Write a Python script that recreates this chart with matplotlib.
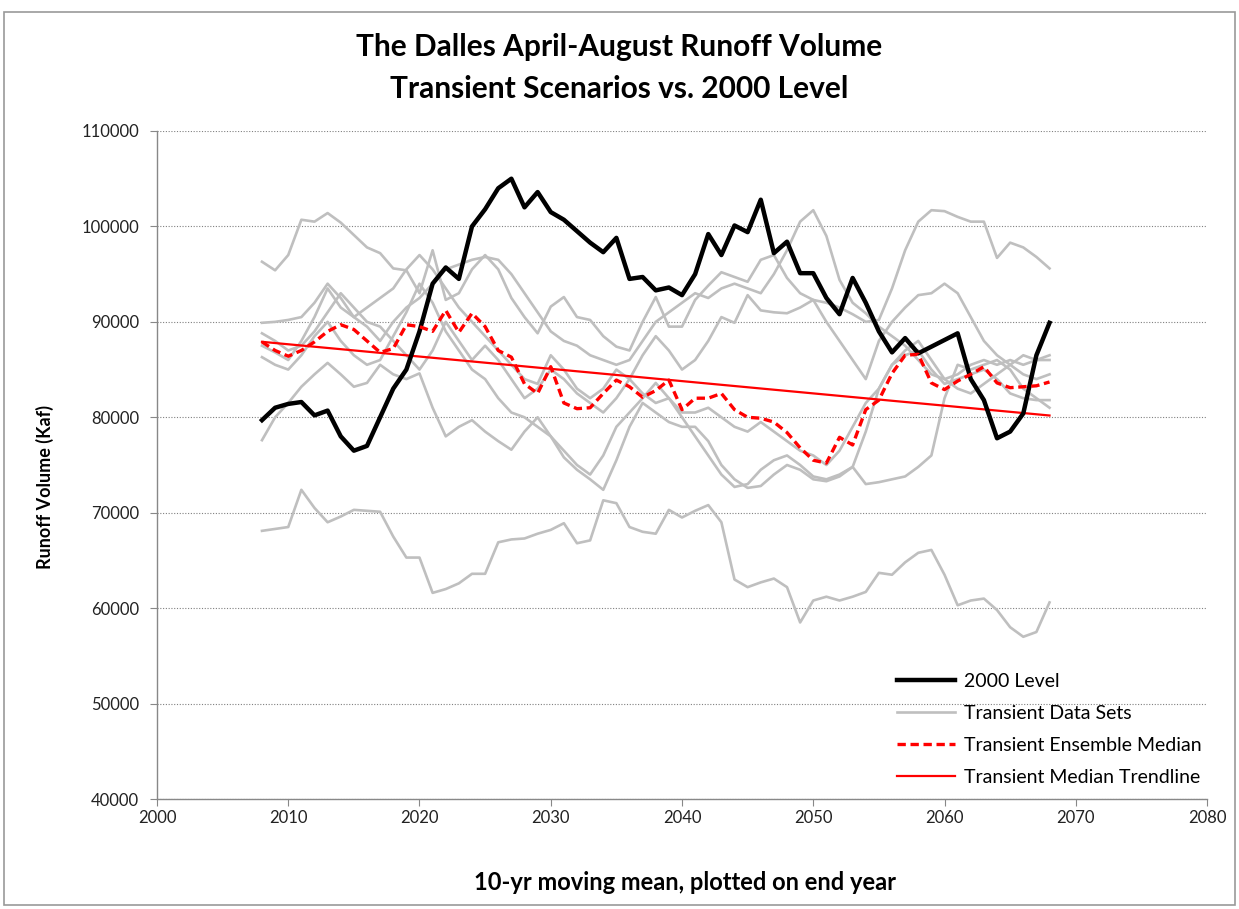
import numpy as np
import matplotlib.pyplot as plt
from matplotlib.patches import Rectangle
from matplotlib.ticker import StrMethodFormatter

# Anni (media mobile 10 anni, riportata sull'anno finale)
anni = np.arange(2008, 2069)

# Livello 2000
livello_2000 = [79700, 81000, 81400, 81600, 80200, 80700, 78000, 76500, 77000, 80000,
                83000, 85000, 89000, 94000, 95700, 94500, 100000, 101800, 104000, 105000,
                102000, 103600, 101500, 100700, 99500, 98300, 97300, 98800, 94500, 94700,
                93300, 93600, 92800, 95000, 99200, 97000, 100100, 99400, 102800, 97200,
                98400, 95100, 95100, 92500, 90800, 94600, 92000, 89000, 86800, 88300,
                86700, 87400, 88100, 88800, 84000, 81800, 77800, 78500, 80400, 86500,
                89900]

# Mediana dell'ensemble transiente
mediana = [87900, 87000, 86400, 87000, 87900, 89000, 89700, 89200, 88000, 86800,
           87200, 89700, 89500, 89000, 91200, 88900, 90900, 89500, 87000, 86300,
           83500, 82500, 85300, 81500, 80900, 81000, 82500, 83900, 83200, 82100,
           82800, 83900, 80800, 82000, 82000, 82500, 80800, 80000, 79900, 79500,
           78400, 76800, 75500, 75200, 77900, 77100, 80800, 81800, 84600, 86500,
           86600, 83600, 82900, 83800, 84500, 85300, 83600, 83100, 83200, 83300,
           83700]

# Serie transienti (grigie)
serie_1 = [96300, 95400, 97000, 100700, 100500, 101400, 100400, 99100, 97800, 97200,
           95600, 95400, 93000, 97500, 92300, 93000, 95500, 97000, 95500, 92500,
           90500, 88800, 91600, 92600, 90500, 90200, 88500, 87400, 87000, 90000,
           92600, 89500, 89500, 92300, 93800, 95200, 94700, 94200, 96500, 97000,
           94600, 93000, 92300, 92000, 91500, 90800, 90000, 90200, 93500, 97500,
           100500, 101700, 101600, 101000, 100500, 100500, 96700, 98300, 97800, 96800,
           95600]
serie_2 = [89900, 90000, 90200, 90500, 92000, 94000, 92500, 90500, 89500, 88000,
           90000, 91500, 92500, 94000, 95500, 96000, 96500, 96800, 96500, 95000,
           93000, 91000, 89000, 88000, 87500, 86500, 86000, 85500, 86000, 88000,
           90000, 91000, 92000, 93000, 92500, 93500, 94000, 93500, 93000, 95000,
           97500, 100500, 101700, 99000, 94400, 92000, 90900, 89500, 88500, 87500,
           86000, 84500, 84000, 84500, 85500, 86000, 85500, 86000, 85500, 86000,
           86500]
serie_3 = [88800, 88000, 87000, 87500, 89000, 91000, 93000, 91500, 90000, 89500,
           88000, 86500, 85000, 87000, 90000, 88000, 86000, 87500, 86000, 84000,
           82000, 83000, 85000, 84000, 82500, 81500, 80500, 82000, 84000, 86500,
           88500, 87000, 85000, 86000, 88000, 90500, 89900, 92800, 91200, 91000,
           90900, 91500, 92300, 90000, 88000, 86000, 84000, 88000, 90000, 91500,
           92800, 93000, 94000, 93000, 90500, 88000, 86500, 85500, 84500, 84000,
           84500]
serie_4 = [86300, 85500, 85000, 86500, 88500, 90000, 88000, 86500, 85500, 86000,
           88500, 91000, 94000, 92000, 89000, 87000, 85000, 84000, 82000, 80500,
           80000, 79000, 78000, 76500, 75000, 74000, 76000, 79000, 80500, 82000,
           83600, 82000, 80000, 78000, 76000, 74000, 72700, 73000, 74500, 75500,
           76000, 75000, 73800, 73500, 74000, 74800, 78500, 83000, 85500, 86500,
           87000, 85000, 83500, 84000, 84500, 85000, 84000, 82500, 82000, 81800,
           81800]
serie_5 = [77600, 80000, 81500, 83200, 84500, 85700, 84500, 83200, 83600, 85500,
           84500, 84000, 84600, 81000, 78000, 79000, 79700, 78500, 77500, 76600,
           78500, 80000, 78000, 75800, 74500, 73500, 72400, 75500, 79000, 81500,
           80500, 79500, 79000, 79000, 77500, 75000, 73500, 72600, 72800, 74000,
           75000, 74500, 73500, 73300, 73800, 74800, 73000, 73200, 73500, 73800,
           74800, 76000, 82000, 85500, 85000, 85500, 86000, 85000, 83000, 82000,
           81000]
serie_6 = [87500, 86800, 86000, 88000, 90500, 93500, 91500, 90500, 91500, 92500,
           93500, 95500, 97000, 95500, 93500, 91500, 90000, 88500, 87000, 85500,
           84000, 83500, 86500, 85000, 83000, 82000, 83000, 85000, 84000, 82500,
           81500, 82000, 80500, 80500, 81000, 80000, 79000, 78500, 79500, 78500,
           77500, 76500, 76000, 75000, 76500, 79000, 81500, 83000, 85500, 87000,
           88000, 86000, 84000, 83000, 82500, 83500, 84500, 85500, 86500, 86000,
           86000]
serie_7 = [68100, 68300, 68500, 72400, 70500, 69000, 69600, 70300, 70200, 70100,
           67500, 65300, 65300, 61600, 62000, 62600, 63600, 63600, 66900, 67200,
           67300, 67800, 68200, 68900, 66800, 67100, 71300, 71000, 68500, 68000,
           67800, 70300, 69500, 70200, 70800, 69000, 63000, 62200, 62700, 63100,
           62200, 58500, 60800, 61200, 60800, 61200, 61700, 63700, 63500, 64800,
           65800, 66100, 63500, 60300, 60800, 61000, 59800, 58000, 57000, 57500,
           60600]

serie_grigie = [serie_1, serie_2, serie_3, serie_4, serie_5, serie_6, serie_7]

grigio = '#bfbfbf'
font = 'Lato'

fig = plt.figure(figsize=(12.39, 9.09), dpi=100)
ax = fig.add_axes([0.1267, 0.121, 0.8475, 0.7349])

# Serie transienti
for i, s in enumerate(serie_grigie):
    ax.plot(anni, s, color=grigio, linewidth=1.9, zorder=2,
            label='Transient Data Sets' if i == 0 else None)

# Trendline della mediana (fit lineare)
coef = np.polyfit(anni, mediana, 1)
trend = np.polyval(coef, anni)
ax.plot(anni, trend, color='red', linewidth=1.6, zorder=3, label='Transient Median Trendline')

ax.plot(anni, livello_2000, color='black', linewidth=3.2, zorder=4, label='2000 Level')
ax.plot(anni, mediana, color='red', linewidth=2.4, linestyle=(0, (2.5, 1.4)), zorder=5,
        label='Transient Ensemble Median')

# Assi
ax.set_xlim(2000, 2080)
ax.set_ylim(40000, 110000)
ax.set_xticks(np.arange(2000, 2081, 10))
ax.set_yticks(np.arange(40000, 110001, 10000))
ax.yaxis.set_major_formatter(StrMethodFormatter('{x:.0f}'))
ax.grid(True, axis='y', linestyle=(0, (1, 1.5)), color='#808080', linewidth=0.8)
ax.set_axisbelow(True)
for lato in ['top', 'right']:
    ax.spines[lato].set_visible(False)
for lato in ['left', 'bottom']:
    ax.spines[lato].set_color('#888888')
    ax.spines[lato].set_linewidth(1.0)
ax.tick_params(axis='both', direction='out', length=5, color='#888888',
               labelsize=12, labelcolor='#222222')
ax.tick_params(axis='x', pad=3)
ax.tick_params(axis='y', pad=8)
for t in ax.get_xticklabels() + ax.get_yticklabels():
    t.set_fontfamily(font)

ax.set_xlabel('10-yr moving mean, plotted on end year', fontsize=17, fontweight='bold',
              family=font)
ax.xaxis.set_label_coords(0.503, -0.108)
ax.set_ylabel('Runoff Volume (Kaf)', fontsize=13, fontweight='bold', family=font)
ax.yaxis.set_label_coords(-0.098, 0.467)

fig.suptitle('The Dalles April-August Runoff Volume\nTransient Scenarios vs. 2000 Level',
             fontsize=21.5, fontweight='bold', family=font,
             y=0.964, linespacing=1.6)

# Legenda
maniglie, etichette = ax.get_legend_handles_labels()
ordine = ['2000 Level', 'Transient Data Sets', 'Transient Ensemble Median',
          'Transient Median Trendline']
h = [maniglie[etichette.index(o)] for o in ordine]
leg = fig.legend(h, ordine, loc='upper left', bbox_to_anchor=(889 / 1239, 1 - 665 / 909),
                 frameon=False, handlelength=3.0, labelspacing=0.78,
                 handletextpad=0.45, borderaxespad=0,
                 prop={'family': font, 'size': 14})

# Bordo esterno del grafico
fig.patches.append(Rectangle((4 / 1239, 4 / 909), 1231 / 1239, 893 / 909,
                             transform=fig.transFigure, fill=False,
                             edgecolor='#999999', linewidth=1.2))

fig.savefig('out.png', dpi=100)
